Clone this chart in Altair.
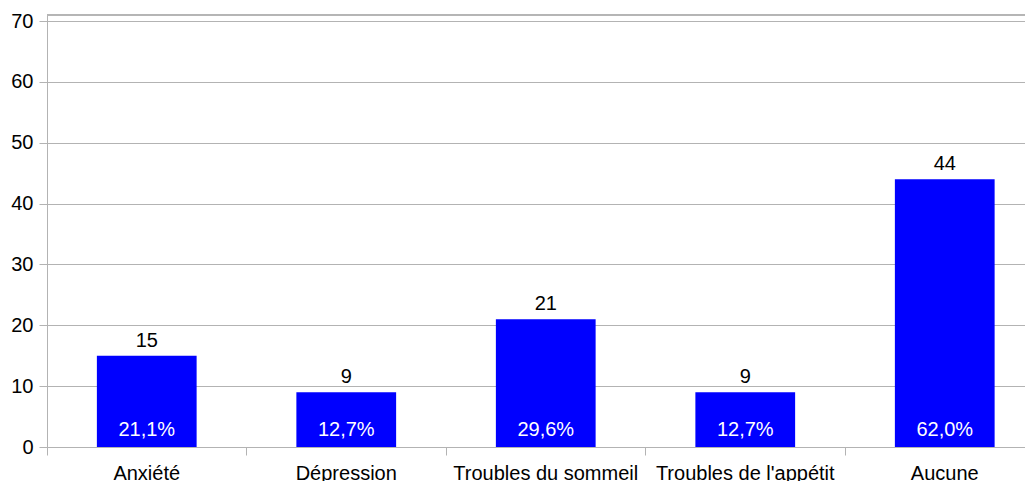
import altair as alt
import pandas as pd

categories = ["Anxiété", "Dépression", "Troubles du sommeil", "Troubles de l'appétit", "Aucune"]
counts = [15, 9, 21, 9, 44]
percents = ["21,1%", "12,7%", "29,6%", "12,7%", "62,0%"]
y_ticks = [0, 10, 20, 30, 40, 50, 60, 70]
y_max = 71

df = pd.DataFrame({"cat": categories, "n": counts, "pct": percents})

GRAY = "#b3b3b3"
FONT = "Liberation Sans"
FS = 20

x_enc = alt.X(
    "cat:N",
    sort=categories,
    title=None,
    scale=alt.Scale(range=[0, 997.5], paddingInner=0, paddingOuter=0),
    axis=alt.Axis(
        bandPosition=0,
        grid=False,
        labelAngle=0,
        labelFont=FONT,
        labelFontSize=FS,
        labelColor="#000000",
        labelPadding=8,
        tickSize=8,
        tickColor=GRAY,
        domainColor=GRAY,
        labelOverlap=False,
        labelLimit=0,
    ),
)
y_scale = alt.Scale(domain=[0, y_max], nice=False, zero=True)

base = alt.Chart(df)

bars = base.mark_bar(color="#0000ff", width=alt.RelativeBandSize(0.5)).encode(
    x=x_enc,
    y=alt.Y(
        "n:Q",
        title=None,
        scale=y_scale,
        axis=alt.Axis(
            values=y_ticks,
            grid=True,
            gridColor=GRAY,
            domainColor=GRAY,
            tickColor=GRAY,
            tickSize=8,
            labelFont=FONT,
            labelFontSize=FS,
            labelColor="#000000",
            labelPadding=6,
        ),
    ),
)

top_line = base.mark_rule(color=GRAY, strokeWidth=1).encode(
    y=alt.datum(y_max, scale=y_scale)
)

value_labels = base.mark_text(
    font=FONT, fontSize=FS, color="#000000", baseline="alphabetic", dy=-9
).encode(x=alt.X("cat:N", sort=categories), y="n:Q", text="n:Q")

pct_labels = base.mark_text(
    font=FONT, fontSize=FS, color="#ffffff", baseline="alphabetic", dy=-11
).encode(x=alt.X("cat:N", sort=categories), y=alt.datum(0), text="pct:N")

chart = (
    alt.layer(top_line, bars, value_labels, pct_labels)
    .properties(
        width=978,
        height=432,
        autosize=alt.AutoSizeParams(type="none"),
        padding={"left": 39, "top": 7, "right": 0, "bottom": 34},
    )
    .configure_view(stroke=None)
)

chart.save("out.html", embed_options={"renderer": "svg", "actions": False})
